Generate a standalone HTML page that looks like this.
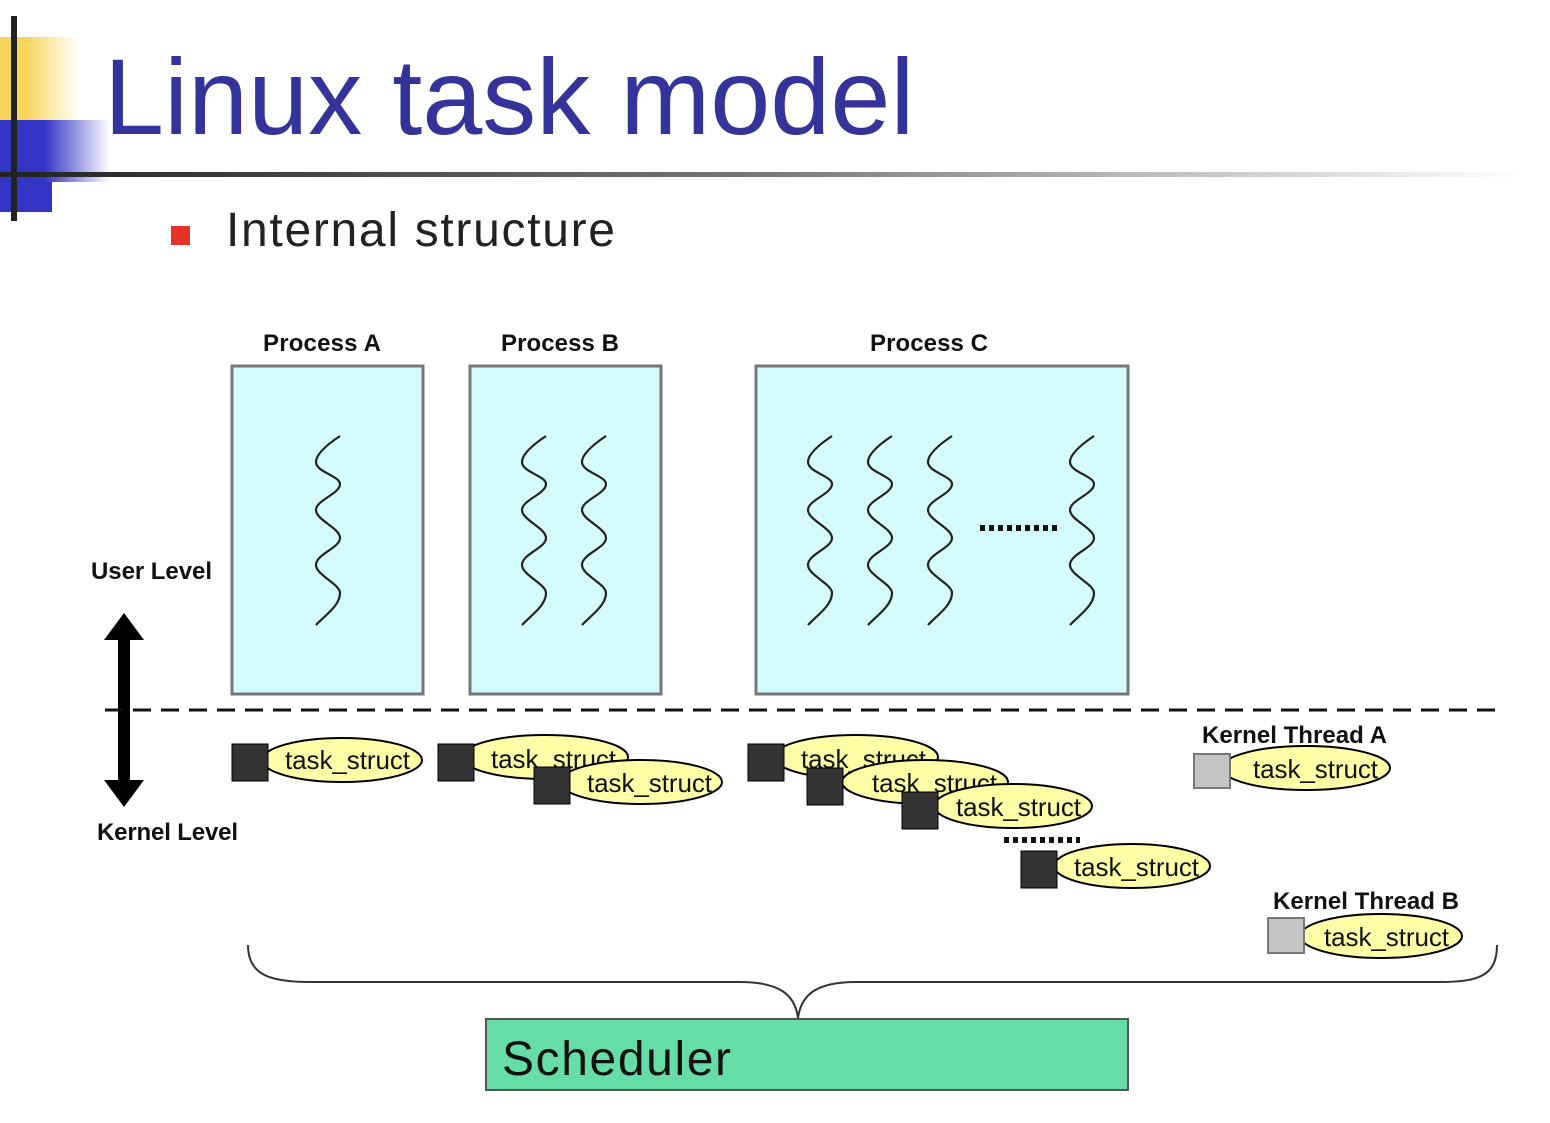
<!DOCTYPE html>
<html><head><meta charset="utf-8"><style>
body{margin:0;width:1550px;height:1118px;background:#fff;overflow:hidden;font-family:"Liberation Sans",sans-serif;}
</style></head><body>
<svg width="1550" height="1118" viewBox="0 0 1550 1118" xmlns="http://www.w3.org/2000/svg" font-family="Liberation Sans, sans-serif">
<defs>
<linearGradient id="gy" x1="0" x2="1"><stop offset="0" stop-color="#f7d55a"/><stop offset="0.3" stop-color="#f7d55a"/><stop offset="1" stop-color="#fff"/></linearGradient>
<linearGradient id="gb" x1="0" x2="1"><stop offset="0" stop-color="#3333c4"/><stop offset="0.4" stop-color="#3333c4"/><stop offset="1" stop-color="#fff"/></linearGradient>
<linearGradient id="gl" x1="0" x2="1"><stop offset="0" stop-color="#222"/><stop offset="0.5" stop-color="#777"/><stop offset="1" stop-color="#fff"/></linearGradient>
<path id="w" d="M24,0 C12,8 0,18 0,26 C0,36 24,40 24,48 C24,58 0,64 0,74 C0,84 24,92 24,102 C24,112 0,118 0,129 C0,139 24,148 24,157 C24,170 8,180 0,189" fill="none" stroke="#222" stroke-width="2.2"/>
</defs>
<rect x="0" y="37" width="80" height="83" fill="url(#gy)"/>
<rect x="0" y="120" width="110" height="62" fill="url(#gb)"/>
<rect x="0" y="182" width="52" height="30" fill="#3333c4"/>
<rect x="0" y="172" width="1520" height="5" fill="url(#gl)"/>
<rect x="11" y="16" width="6" height="205" fill="#222"/>
<text x="104" y="134" font-size="108" fill="#333399">Linux task model</text>
<rect x="171" y="226" width="19" height="19" fill="#e83226"/>
<text x="226" y="246" font-size="48" fill="#222" textLength="389" lengthAdjust="spacing">Internal structure</text>

<g font-size="24" fill="#111" font-weight="bold">
<text x="263" y="351" textLength="118">Process A</text><text x="501" y="351" textLength="118">Process B</text><text x="870" y="351" textLength="118">Process C</text>
<text x="91" y="579" textLength="121">User Level</text><text x="97" y="840" textLength="141">Kernel Level</text>
<text x="1202" y="743" textLength="185">Kernel Thread A</text><text x="1273" y="909" textLength="186">Kernel Thread B</text>
</g>
<g fill="#d5fcfc" stroke="#777" stroke-width="3">
<rect x="232" y="366" width="191" height="328"/><rect x="470" y="366" width="191" height="328"/><rect x="756" y="366" width="372" height="328"/>
</g>
<use href="#w" x="316" y="436"/><use href="#w" x="522" y="436"/><use href="#w" x="582" y="436"/>
<use href="#w" x="808" y="436"/><use href="#w" x="868" y="436"/><use href="#w" x="928" y="436"/><use href="#w" x="1070" y="436"/>
<line x1="980" y1="528" x2="1058" y2="528" stroke="#111" stroke-width="6" stroke-dasharray="5,4"/>

<line x1="124" y1="630" x2="124" y2="790" stroke="#000" stroke-width="12"/>
<polygon points="124,613 104,640 144,640" fill="#000"/>
<polygon points="124,807 104,780 144,780" fill="#000"/>
<line x1="105" y1="710" x2="1500" y2="710" stroke="#111" stroke-width="3" stroke-dasharray="18,10"/>

<g font-size="26">
<ellipse cx="342" cy="760" rx="80" ry="22" fill="#ffffa8" stroke="#000" stroke-width="2"/><text x="285" y="769" textLength="125" fill="#111">task_struct</text><rect x="232" y="744" width="36" height="37" fill="#333" stroke="#000"/>
<ellipse cx="545" cy="757" rx="83" ry="22" fill="#ffffa8" stroke="#000" stroke-width="2"/><text x="491" y="768" textLength="125" fill="#111">task_struct</text><rect x="438" y="744" width="36" height="37" fill="#333" stroke="#000"/>
<ellipse cx="641" cy="782" rx="81" ry="22" fill="#ffffa8" stroke="#000" stroke-width="2"/><text x="587" y="792" textLength="125" fill="#111">task_struct</text><rect x="534" y="767" width="36" height="37" fill="#333" stroke="#000"/>
<ellipse cx="856" cy="757" rx="82" ry="22" fill="#ffffa8" stroke="#000" stroke-width="2"/><text x="801" y="768" textLength="125" fill="#111">task_struct</text><rect x="748" y="744" width="36" height="37" fill="#333" stroke="#000"/>
<ellipse cx="925" cy="782" rx="83" ry="22" fill="#ffffa8" stroke="#000" stroke-width="2"/><text x="872" y="792" textLength="125" fill="#111">task_struct</text><rect x="807" y="768" width="36" height="37" fill="#333" stroke="#000"/>
<ellipse cx="1013" cy="806" rx="79" ry="22" fill="#ffffa8" stroke="#000" stroke-width="2"/><text x="956" y="816" textLength="125" fill="#111">task_struct</text><rect x="902" y="792" width="36" height="37" fill="#333" stroke="#000"/>
<ellipse cx="1132" cy="866" rx="78" ry="22" fill="#ffffa8" stroke="#000" stroke-width="2"/><text x="1074" y="876" textLength="125" fill="#111">task_struct</text><rect x="1021" y="851" width="36" height="37" fill="#333" stroke="#000"/>
<ellipse cx="1306" cy="768" rx="84" ry="22" fill="#ffffa8" stroke="#000" stroke-width="2"/><text x="1253" y="778" textLength="125" fill="#111">task_struct</text><rect x="1194" y="754" width="36" height="34" fill="#c4c4c4" stroke="#777" stroke-width="2"/>
<ellipse cx="1381" cy="936" rx="81" ry="22" fill="#ffffa8" stroke="#000" stroke-width="2"/><text x="1324" y="946" textLength="125" fill="#111">task_struct</text><rect x="1268" y="918" width="36" height="35" fill="#c4c4c4" stroke="#777" stroke-width="2"/>
</g>
<line x1="1004" y1="840" x2="1080" y2="840" stroke="#111" stroke-width="6" stroke-dasharray="5,4"/>

<path d="M248,945 C248,975 270,982 310,982 L740,982 C780,982 795,995 798,1018 C801,995 816,982 856,982 L1440,982 C1480,982 1497,975 1497,945" fill="none" stroke="#333" stroke-width="2"/>
<rect x="486" y="1019" width="642" height="71" fill="#66dda8" stroke="#555" stroke-width="2"/>
<text x="502" y="1075" font-size="48" fill="#111" textLength="229">Scheduler</text>
</svg>
</body></html>
